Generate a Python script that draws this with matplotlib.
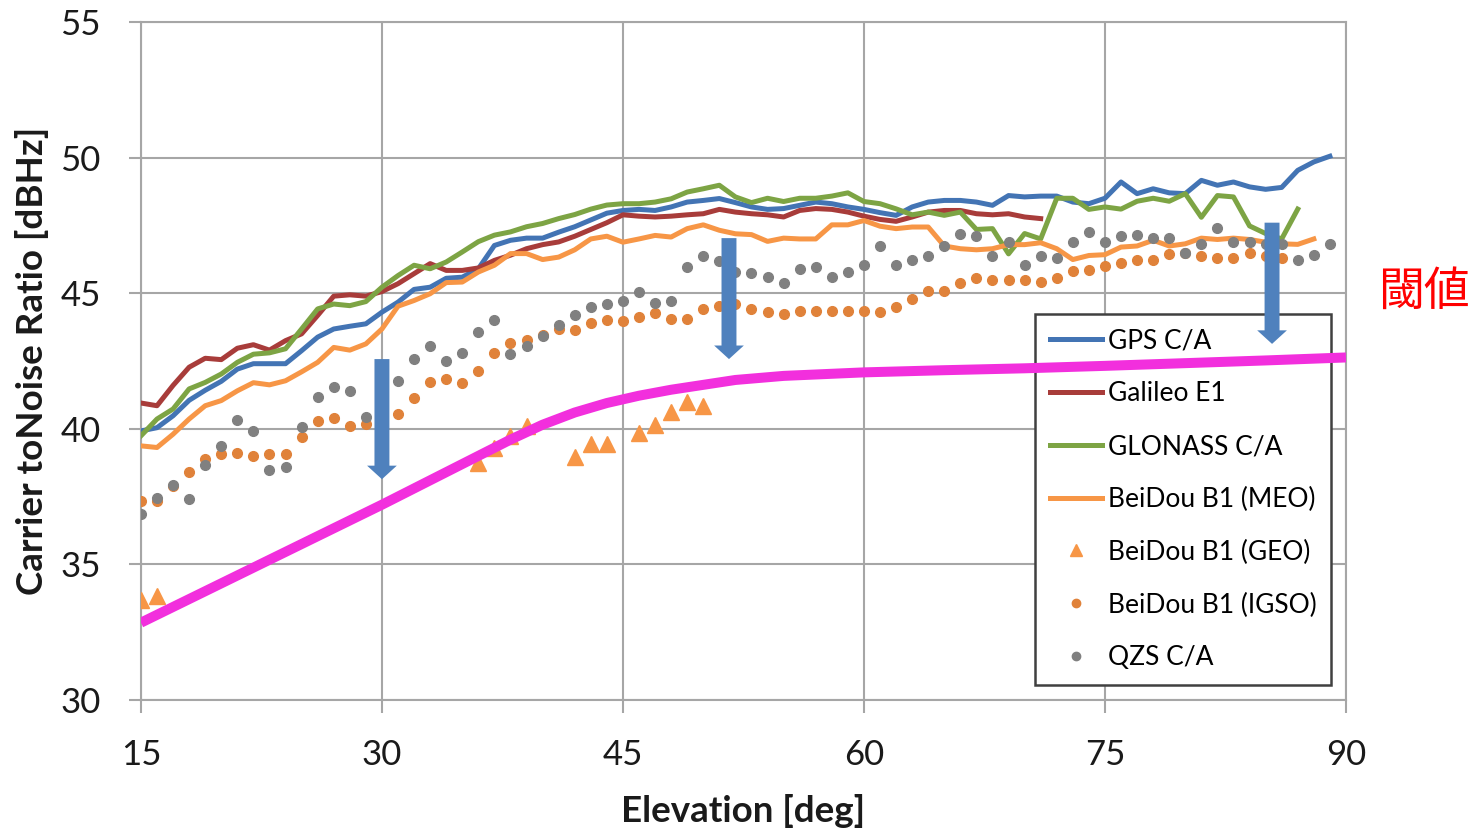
import numpy as np
import matplotlib.pyplot as plt
from matplotlib.patches import FancyArrow
from matplotlib.lines import Line2D

# elevation grid used by the receiver log (1 deg steps)
elev = np.arange(15, 90)

gps = [39.92, 40.04, 40.48, 41.05, 41.42, 41.75, 42.2, 42.4, 42.4, 42.4,
       42.88, 43.38, 43.68, 43.78, 43.87, 44.3, 44.67, 45.14, 45.22, 45.55,
       45.59, 45.9, 46.76, 46.95, 47.03, 47.03, 47.25, 47.45, 47.7, 47.95,
       48.05, 48.09, 48.05, 48.18, 48.36, 48.42, 48.49, 48.34, 48.18, 48.09,
       48.12, 48.24, 48.36, 48.3, 48.18, 48.09, 47.97, 47.87, 48.18, 48.36,
       48.42, 48.42, 48.36, 48.24, 48.6, 48.55, 48.58, 48.58, 48.36, 48.3,
       48.5, 49.1, 48.67, 48.85, 48.7, 48.67, 49.16, 48.98, 49.1, 48.92,
       48.83, 48.9, 49.53, 49.84, 50.05]

galileo = [40.95, 40.85, 41.6, 42.27, 42.6, 42.55, 42.97, 43.1, 42.9, 43.25,
           43.5, 44.18, 44.89, 44.94, 44.89, 45.06, 45.35, 45.72, 46.09, 45.84,
           45.84, 45.93, 46.21, 46.4, 46.64, 46.79, 46.89, 47.1, 47.35, 47.6,
           47.89, 47.84, 47.81, 47.84, 47.89, 47.93, 48.09, 47.99, 47.93, 47.89,
           47.81, 48.05, 48.12, 48.09, 47.99, 47.84, 47.72, 47.65, 47.81, 47.99,
           48.05, 48.05, 47.93, 47.89, 47.93, 47.81, 47.75]

glonass = [39.74, 40.36, 40.73, 41.47, 41.71, 42.02, 42.45, 42.75, 42.8, 42.95,
           43.68, 44.42, 44.6, 44.54, 44.69, 45.22, 45.65, 46.03, 45.9, 46.15,
           46.52, 46.9, 47.14, 47.26, 47.45, 47.57, 47.75, 47.9, 48.1, 48.25,
           48.3, 48.3, 48.36, 48.48, 48.73, 48.85, 48.98, 48.55, 48.34, 48.5,
           48.38, 48.5, 48.5, 48.58, 48.7, 48.38, 48.3, 48.11, 47.89, 47.99,
           47.87, 47.99, 47.35, 47.38, 46.45, 47.2, 47.0, 48.5, 48.5, 48.09,
           48.18, 48.1, 48.39, 48.5, 48.39, 48.67, 47.8, 48.6, 48.55, 47.48,
           47.2, 47.0, 48.1]

beidou_meo = [39.37, 39.31, 39.8, 40.36, 40.85, 41.04, 41.4, 41.7, 41.62, 41.77,
              42.1, 42.45, 43.0, 42.9, 43.13, 43.68, 44.52, 44.73, 44.98, 45.39,
              45.41, 45.78, 46.03, 46.46, 46.46, 46.24, 46.33, 46.6, 47.0, 47.1,
              46.88, 47.0, 47.13, 47.07, 47.38, 47.52, 47.32, 47.19, 47.16, 46.91,
              47.03, 47.0, 47.0, 47.52, 47.52, 47.68, 47.47, 47.38, 47.44, 47.44,
              46.74, 46.64, 46.6, 46.64, 46.79, 46.79, 46.86, 46.64, 46.24, 46.39,
              46.42, 46.7, 46.74, 46.95, 46.74, 46.82, 47.03, 46.98, 47.03, 46.98,
              46.88, 46.82, 46.8, 47.0]

geo_elev = [15, 16, 36, 37, 38, 39, 42, 43, 44, 46, 47, 48, 49, 50]
beidou_geo = [33.7, 33.85, 38.75, 39.3, 39.74, 40.1, 38.97, 39.43, 39.43,
              39.86, 40.13, 40.62, 40.97, 40.85]

beidou_igso = [37.32, 37.32, 37.9, 38.41, 38.9, 39.06, 39.12, 39.0, 39.06, 39.06,
               39.68, 40.3, 40.38, 40.1, 40.17, 40.4, 40.54, 41.12, 41.71, 41.83,
               41.67, 42.14, 42.8, 43.17, 43.29, 43.45, 43.68, 43.65, 43.9, 44.0,
               43.99, 44.11, 44.27, 44.05, 44.05, 44.42, 44.54, 44.6, 44.42, 44.32,
               44.24, 44.36, 44.36, 44.36, 44.36, 44.36, 44.3, 44.48, 44.77, 45.07,
               45.07, 45.38, 45.55, 45.5, 45.5, 45.5, 45.43, 45.57, 45.8, 45.87,
               46.0, 46.12, 46.24, 46.24, 46.45, 46.5, 46.37, 46.3, 46.3, 46.5,
               46.37, 46.3]

qzs = [36.85, 37.46, 37.93, 37.4, 38.65, 39.37, 40.33, 39.93, 38.49, 38.6,
       40.08, 41.19, 41.55, 41.38, 40.42, 40.6, 41.77, 42.57, 43.07, 42.51,
       42.8, 43.58, 44.01, 42.76, 43.04, 43.41, 43.83, 44.2, 44.5, 44.6,
       44.73, 45.04, 44.63, 44.73, 45.96, 46.37, 46.17, 45.78, 45.75, 45.6,
       45.38, 45.9, 45.96, 45.6, 45.78, 46.05, 46.74, 46.05, 46.24, 46.37,
       46.74, 47.2, 47.1, 46.37, 46.9, 46.05, 46.37, 46.3, 46.9, 47.25,
       46.9, 47.1, 47.13, 47.03, 47.03, 46.5, 46.8, 47.4, 46.9, 46.88,
       46.8, 46.8, 46.24, 46.42, 46.82]

# threshold curve (閾値)
thresh_elev = [15, 20, 25, 30, 33, 36, 38, 40, 42, 44, 46, 48, 50, 52, 55,
               60, 65, 70, 75, 80, 85, 90]
thresh_cn0 = [32.85, 34.3, 35.75, 37.2, 38.1, 39.0, 39.6, 40.15, 40.6, 40.95,
              41.22, 41.44, 41.62, 41.8, 41.95, 42.08, 42.16, 42.23, 42.32,
              42.42, 42.52, 42.63]

# drop arrows: (elevation, from, to)
drops = [(30.0, 42.57, 38.14), (51.6, 47.03, 42.57), (85.4, 47.6, 43.13)]

c_gps = '#4374B4'
c_gal = '#A83C3A'
c_glo = '#7DA444'
c_meo = '#F79646'
c_geo = '#F79646'
c_igso = '#E0823A'
c_qzs = '#808080'
c_thr = '#F22FDD'
c_arrow = '#4F81BD'

plt.rcParams['font.family'] = ['Lato', 'DejaVu Sans']

fig = plt.figure(figsize=(14.82, 8.33), dpi=100)
ax = fig.add_axes([0.0951, 0.1597, 0.8131, 0.8139])

lw = 3.6
ax.plot(elev[:len(gps)], gps, color=c_gps, lw=lw, zorder=3)
ax.plot(elev[:len(galileo)], galileo, color=c_gal, lw=lw, zorder=3)
ax.plot(elev[:len(glonass)], glonass, color=c_glo, lw=lw, zorder=3)
ax.plot(elev[:len(beidou_meo)], beidou_meo, color=c_meo, lw=lw, zorder=3)
ax.plot(geo_elev, beidou_geo, ls='none', marker='^', ms=12, color=c_geo, zorder=3)
ax.plot(elev[:len(beidou_igso)], beidou_igso, ls='none', marker='o', ms=7,
        color=c_igso, zorder=3)
ax.plot(elev[:len(qzs)], qzs, ls='none', marker='o', ms=7, color=c_qzs, zorder=3)

ax.plot(thresh_elev, thresh_cn0, color=c_thr, lw=7.2, solid_capstyle='butt',
        zorder=6)

for x, y0, y1 in drops:
    ax.add_patch(FancyArrow(x, y0, 0, y1 - y0, width=0.93, head_width=1.85,
                            head_length=0.5, length_includes_head=True,
                            color=c_arrow, lw=0, zorder=7))

ax.set_xlim(15, 90)
ax.set_ylim(30, 55)
ax.set_xticks([15, 30, 45, 60, 75, 90])
ax.set_yticks([30, 35, 40, 45, 50, 55])
ax.grid(True, color='#A6A6A6', lw=1.5, zorder=0)
ax.set_axisbelow(True)
for s in ax.spines.values():
    s.set_color('#A6A6A6')
    s.set_linewidth(1.5)
ax.tick_params(axis='both', colors='#A6A6A6', length=9, width=1.5,
               labelcolor='#1a1a1a', labelsize=25)
ax.tick_params(axis='x', pad=19)
ax.tick_params(axis='y', pad=20)

ax.set_xlabel('Elevation [deg]', fontsize=26.5, fontweight='bold', color='#1a1a1a')
ax.set_ylabel('Carrier toNoise Ratio [dBHz]', fontsize=26.5, fontweight='bold',
              color='#1a1a1a')
ax.xaxis.set_label_coords(0.5, -0.138)
ax.yaxis.set_label_coords(-0.076, 0.5)

handles = [
    Line2D([], [], color=c_gps, lw=lw),
    Line2D([], [], color=c_gal, lw=lw),
    Line2D([], [], color=c_glo, lw=lw),
    Line2D([], [], color=c_meo, lw=lw),
    Line2D([], [], ls='none', marker='^', ms=9, color=c_geo),
    Line2D([], [], ls='none', marker='o', ms=6, color=c_igso),
    Line2D([], [], ls='none', marker='o', ms=6, color=c_qzs),
]
labels = ['GPS C/A', 'Galileo E1', 'GLONASS C/A', 'BeiDou B1 (MEO)',
          'BeiDou B1 (GEO)', 'BeiDou B1 (IGSO)', 'QZS C/A']
leg = ax.legend(handles, labels, loc='upper left', bbox_to_anchor=(0.742, 0.569),
                borderaxespad=0, fontsize=19, labelspacing=1.05,
                handlelength=2.0, handletextpad=0.2, borderpad=0.55,
                fancybox=False, framealpha=1, edgecolor='#404040')
leg.get_frame().set_linewidth(1.8)
leg.set_zorder(4)

fig.text(0.961, 0.6495, '閾値', color='#FF0000', fontsize=33,
         family=['Noto Sans CJK JP', 'DejaVu Sans'], ha='center', va='center')

fig.savefig('out.png', dpi=100)
